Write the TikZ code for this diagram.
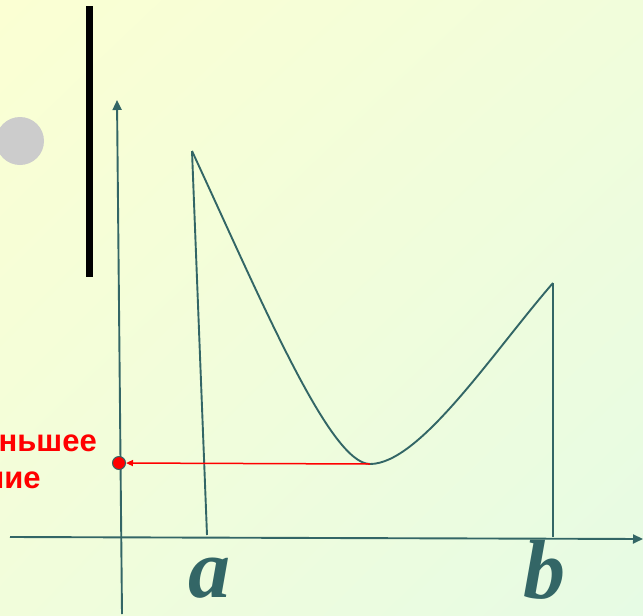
\documentclass[tikz,border=0pt]{standalone}
\usepackage{fontspec}
\newfontfamily\captionfont{Liberation Sans}
\newfontfamily\letterfont{Liberation Serif}
\usetikzlibrary{arrows.meta,calc,shadings}
\definecolor{graphline}{HTML}{336666}
\definecolor{bgyellow}{HTML}{FBFFD3}
\definecolor{bgmid}{HTML}{F1FDDB}
\definecolor{bggreen}{HTML}{E6FBE4}

\begin{document}
\begin{tikzpicture}[
  x=1pt, y=-1pt,
  axis/.style={draw=graphline, line width=1.9pt, -{Triangle[length=10pt,width=9pt]}},
  graph/.style={draw=graphline, line width=1.9pt},
  pointer/.style={draw=red, line width=1.5pt, -{Triangle[length=7pt,width=6pt]}},
  minlabel/.style={text=red, font=\captionfont\bfseries\fontsize{31}{37}\selectfont, inner sep=0pt},
  endlabel/.style={text=graphline, font=\letterfont\bfseries\itshape\fontsize{84}{84}\selectfont, inner sep=0pt, anchor=base}
]
  \useasboundingbox (0,0) rectangle (643,616);
  \clip (0,0) rectangle (643,616);
  \shade[upper left=bgyellow, upper right=bgmid, lower left=bgmid, lower right=bggreen] (0,0) rectangle (643,616);

  % decoration at top left
  \fill[black] (86,6) rectangle (93,277);
  \fill[black!20] (20,141) circle[radius=24];

  % axes
  \coordinate (xstart) at (10,537);
  \coordinate (xend) at (643,539);
  \coordinate (ystart) at (122,614);
  \coordinate (yend) at (117,100);
  \draw[axis] (xstart) -- (xend);
  \draw[axis] (ystart) -- (yend);

  % function on [a,b]
  \coordinate (apeak) at (192,151);
  \coordinate (afoot) at (207,535);
  \coordinate (bpeak) at (553,283);
  \coordinate (bfoot) at (553,537);
  \coordinate (lowest) at (370,464);
  \draw[graph] (afoot) -- (apeak);
  \draw[graph] (bfoot) -- (bpeak);
  \draw[graph] (apeak) .. controls (262,302) and (330,464) .. (lowest)
                       .. controls (420,464) and (493,352) .. (bpeak);

  % smallest value
  \node[circle, fill=red, draw=graphline, line width=1pt, minimum size=13pt, inner sep=0pt] (mindot) at (119,463) {};
  \draw[pointer] (lowest) -- (mindot);
  \node[minlabel, anchor=base east] (minword) at (97,451) {Наименьшее};
  \node[minlabel, anchor=base west] (minvalue) at ($(minword.base west)+(0,37)$) {значение};

  \node[endlabel] (alabel) at (209,597) {a};
  \node[endlabel] (blabel) at (544,598) {b};
\end{tikzpicture}
\end{document}
